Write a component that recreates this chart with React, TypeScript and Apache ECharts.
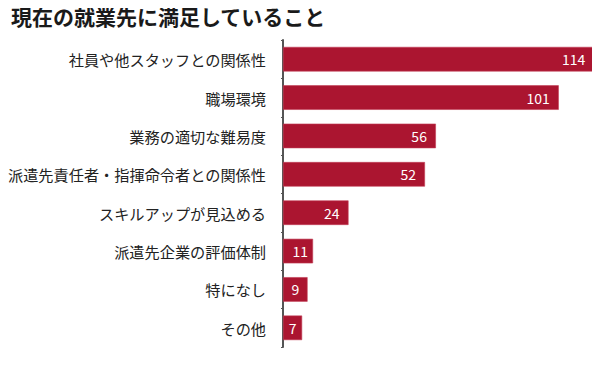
import React, { useEffect, useRef } from "react";
import * as echarts from "echarts";

const categories = [
  "社員や他スタッフとの関係性",
  "職場環境",
  "業務の適切な難易度",
  "派遣先責任者・指揮命令者との関係性",
  "スキルアップが見込める",
  "派遣先企業の評価体制",
  "特になし",
  "その他",
];
const values = [114, 101, 56, 52, 24, 11, 9, 7];
const titleText = "現在の就業先に満足していること";

const FONT = "'Noto Sans CJK JP', 'Noto Sans', sans-serif";

export default function App() {
  const ref = useRef<HTMLDivElement>(null);
  useEffect(() => {
    if (!ref.current) return;
    const chart = echarts.init(ref.current, undefined, { renderer: "svg" });
    chart.setOption({
      animation: false,
      title: {
        text: titleText,
        left: 6,
        top: 0,
        textStyle: { fontFamily: FONT, fontSize: 21, fontWeight: "bold", color: "#1a1a1a" },
      },
      grid: { left: 283, right: 3, top: 40, bottom: 43, containLabel: false },
      xAxis: {
        type: "value",
        min: 0,
        max: 115,
        show: false,
      },
      yAxis: {
        type: "category",
        data: categories,
        inverse: true,
        axisLine: { show: true, lineStyle: { color: "#555555", width: 2 } },
        axisTick: { show: true, length: 2, lineStyle: { color: "#555555" } },
        axisLabel: {
          margin: 17,
          fontFamily: FONT,
          fontSize: 15.2,
          color: "#222222",
        },
      },
      series: [
        {
          type: "bar",
          data: values.map((v) => {
            if (v < 10) return { value: v, label: { position: "inside" } };
            if (v < 20) return { value: v, label: { distance: 5 } };
            return v;
          }),
          barCategoryGap: "36%",
          itemStyle: { color: "#ab1530", borderColor: "#c23e55", borderWidth: 0.6 },
          label: {
            show: true,
            position: "insideRight",
            distance: 9,
            color: "#ffffff",
            fontFamily: FONT,
            fontSize: 14,
          },
        },
      ],
    });
    return () => chart.dispose();
  }, []);
  return <div ref={ref} style={{ width: 600, height: 390, margin: -8 }} />;
}
